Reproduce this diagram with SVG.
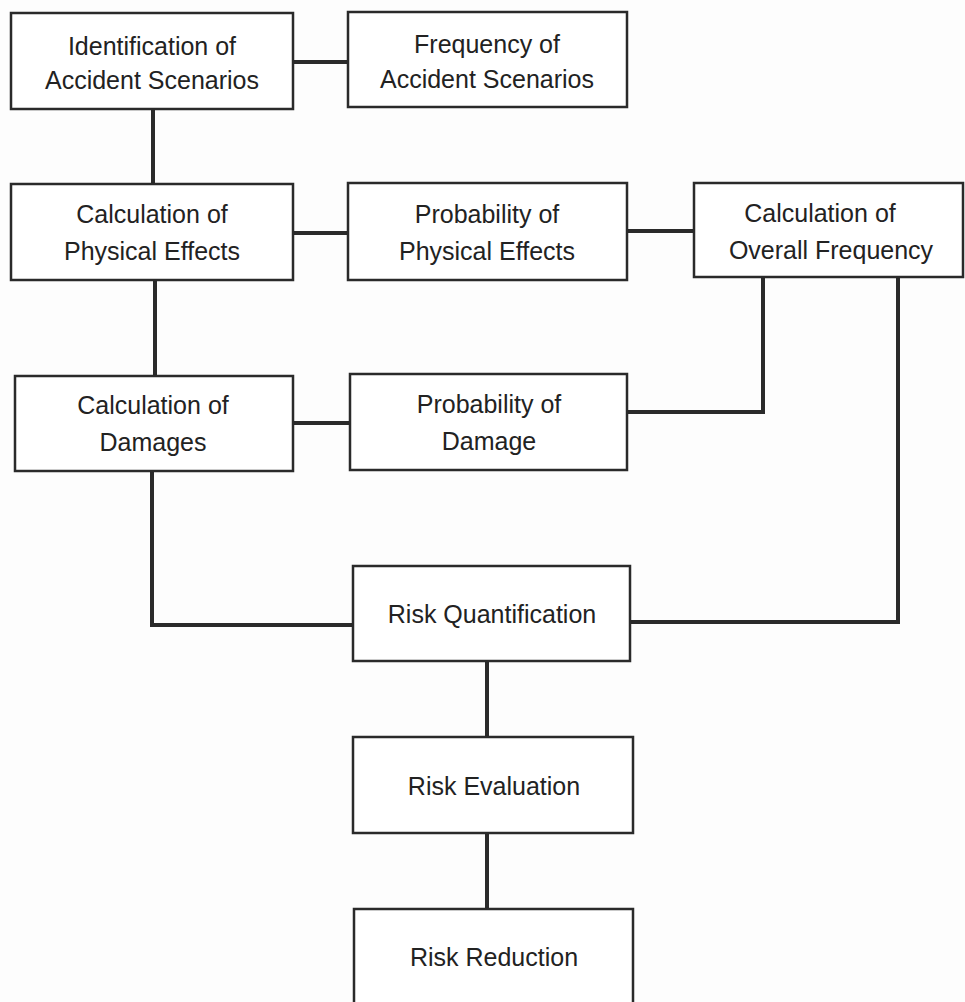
<svg xmlns="http://www.w3.org/2000/svg" width="965" height="1002" viewBox="0 0 965 1002">
<style>
.box{fill:#ffffff;stroke:#2a2a2a;stroke-width:2.5}
.lbl{font-family:"Liberation Sans",Arial,sans-serif;font-size:25px;fill:#222;text-anchor:middle}
.con{fill:none;stroke:#2a2a2a;stroke-width:4;stroke-linejoin:miter}
</style>
<rect width="965" height="1002" fill="#fdfdfd"/>
<g id="connectors">
<path class="con" d="M293 62 H348"/>
<path class="con" d="M153 109 V184"/>
<path class="con" d="M293 233 H348"/>
<path class="con" d="M627 231 H694"/>
<path class="con" d="M155 280 V375"/>
<path class="con" d="M293 423 H350"/>
<path class="con" d="M627 412 H763 V277"/>
<path class="con" d="M898 277 V622 H630"/>
<path class="con" d="M152 471 V625 H353"/>
<path class="con" d="M487 661 V737"/>
<path class="con" d="M487 833 V909"/>
</g>
<g id="n1"><rect class="box" x="11" y="13" width="282" height="96"/><text class="lbl" x="152" y="55">Identification of</text><text class="lbl" x="152" y="89">Accident Scenarios</text></g>
<g id="n2"><rect class="box" x="348" y="12" width="279" height="95"/><text class="lbl" x="487" y="53">Frequency of</text><text class="lbl" x="487" y="88">Accident Scenarios</text></g>
<g id="n3"><rect class="box" x="11" y="184" width="282" height="96"/><text class="lbl" x="152" y="223">Calculation of</text><text class="lbl" x="152" y="260">Physical Effects</text></g>
<g id="n4"><rect class="box" x="348" y="183" width="279" height="97"/><text class="lbl" x="487" y="223">Probability of</text><text class="lbl" x="487" y="260">Physical Effects</text></g>
<g id="n5"><rect class="box" x="694" y="183" width="269" height="94"/><text class="lbl" x="820" y="222">Calculation of</text><text class="lbl" x="831" y="259">Overall Frequency</text></g>
<g id="n6"><rect class="box" x="15" y="376" width="278" height="95"/><text class="lbl" x="153" y="414">Calculation of</text><text class="lbl" x="153" y="451">Damages</text></g>
<g id="n7"><rect class="box" x="350" y="374" width="277" height="96"/><text class="lbl" x="489" y="413">Probability of</text><text class="lbl" x="489" y="450">Damage</text></g>
<g id="n8"><rect class="box" x="353" y="566" width="277" height="95"/><text class="lbl" x="492" y="623">Risk Quantification</text></g>
<g id="n9"><rect class="box" x="353" y="737" width="280" height="96"/><text class="lbl" x="494" y="795">Risk Evaluation</text></g>
<g id="n10"><rect class="box" x="354" y="909" width="279" height="100"/><text class="lbl" x="494" y="966">Risk Reduction</text></g>
</svg>
